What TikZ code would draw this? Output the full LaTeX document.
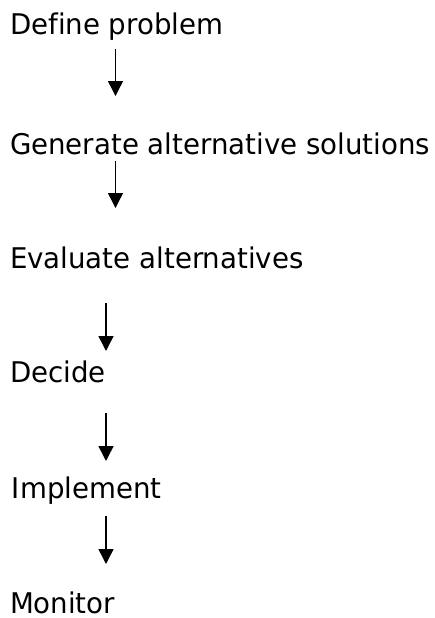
\documentclass[tikz,border=0pt]{standalone}
\usepackage{fontspec}
\setmainfont{DejaVu Sans}[Ligatures=NoCommon,FakeStretch=0.97]
\usetikzlibrary{arrows.meta}
\begin{document}
\begin{tikzpicture}[x=1pt,y=-1pt,
  steptext/.style={anchor=base west,inner sep=0pt,outer sep=0pt,
    font=\fontsize{28.5}{34}\selectfont},
  flow/.style={line width=1.5pt,-{Triangle[length=15pt,width=15pt]}}]
  \useasboundingbox[fill=white] (0,0) rectangle (434,618);
  % process steps
  \node[steptext] (define)   at (10,35)  {Define problem};
  \node[steptext] (generate) at (10,154) {Generate alternative solutions};
  \node[steptext] (evaluate) at (10,268) {Evaluate alternatives};
  \node[steptext] (decide)   at (10,382) {Decide};
  \node[steptext] (implement) at (12,498) {Implement};
  \node[steptext,text depth=0pt] (monitor) at (10,613) {Monitor};
  % arrow end points
  \coordinate (d1) at (115.5,49);  \coordinate (g1) at (115.5,96);
  \coordinate (d2) at (115.5,161); \coordinate (g2) at (115.5,208);
  \coordinate (d3) at (106,303);   \coordinate (g3) at (106,351);
  \coordinate (d4) at (106,413);   \coordinate (g4) at (106,461);
  \coordinate (d5) at (106,516);   \coordinate (g5) at (106,564);
  \foreach \i in {1,...,5} \draw[flow] (d\i) -- (g\i);
\end{tikzpicture}
\end{document}
